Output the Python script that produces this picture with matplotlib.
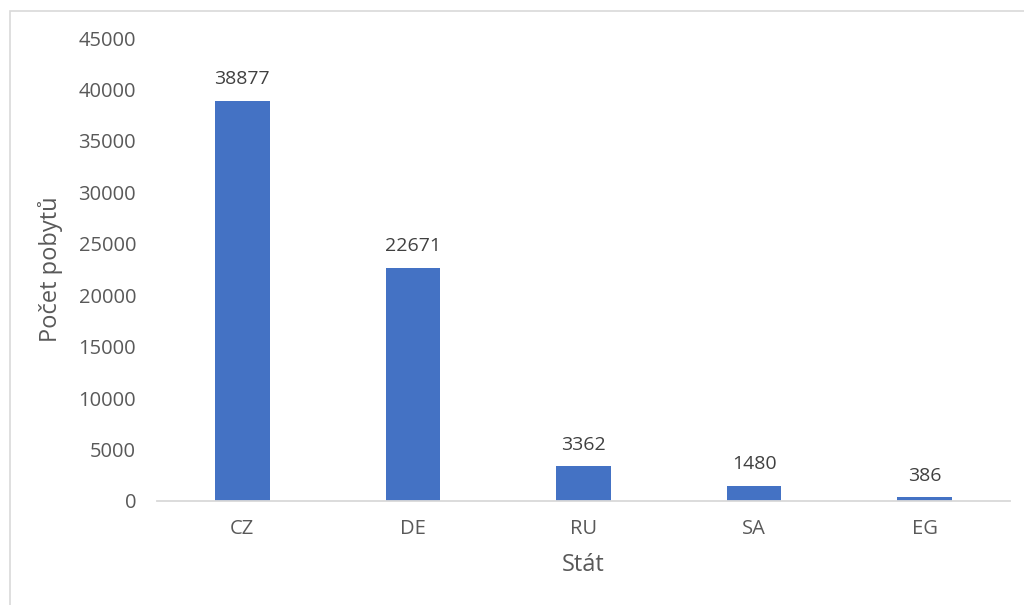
import matplotlib
matplotlib.use('Agg')
import matplotlib.pyplot as plt
from matplotlib.patches import Rectangle

# data
staty = ['CZ', 'DE', 'RU', 'SA', 'EG']
pobyty = [38877, 22671, 3362, 1480, 386]
yticks = [0, 5000, 10000, 15000, 20000, 25000, 30000, 35000, 40000, 45000]

plt.rcParams['font.family'] = ['Open Sans', 'DejaVu Sans']
sedy = '#595959'

fig = plt.figure(figsize=(10.24, 6.05), dpi=100)
ax = fig.add_axes([157/1024, 1 - 501/605, (1010 - 157)/1024, (501 - 38)/605])

x = range(len(staty))
bars = ax.bar(x, pobyty, width=0.32, color='#4472C4', zorder=2)
for b, v in zip(bars, pobyty):
    ax.annotate(str(v), (b.get_x() + b.get_width()/2, v), xytext=(0, 9),
                textcoords='offset points', ha='center', va='bottom',
                fontsize=14, color='#404040')

ax.set_xlim(-0.5, len(staty) - 0.5)
ax.set_ylim(0, 45000)
ax.set_yticks(yticks)
ax.set_xticks(list(x))
ax.set_xticklabels(staty)
ax.tick_params(axis='both', length=0, labelsize=14.5, colors=sedy)
ax.tick_params(axis='y', pad=15)
ax.tick_params(axis='x', pad=13)

for s in ['top', 'right', 'left']:
    ax.spines[s].set_visible(False)
ax.spines['bottom'].set_color('#D9D9D9')
ax.spines['bottom'].set_linewidth(1.3)

ax.set_xlabel('Stát', fontsize=17, color=sedy, labelpad=10)
ax.set_ylabel('Počet pobytů', fontsize=17, color=sedy, labelpad=11)

# chart border (cut at right and bottom)
fig.patches.append(Rectangle((9.5/1024, -0.1), 1.2, 1 - 11/605 + 0.1,
                             transform=fig.transFigure, fill=False,
                             edgecolor='#D9D9D9', linewidth=1.2))

fig.savefig('out.png', dpi=100)
